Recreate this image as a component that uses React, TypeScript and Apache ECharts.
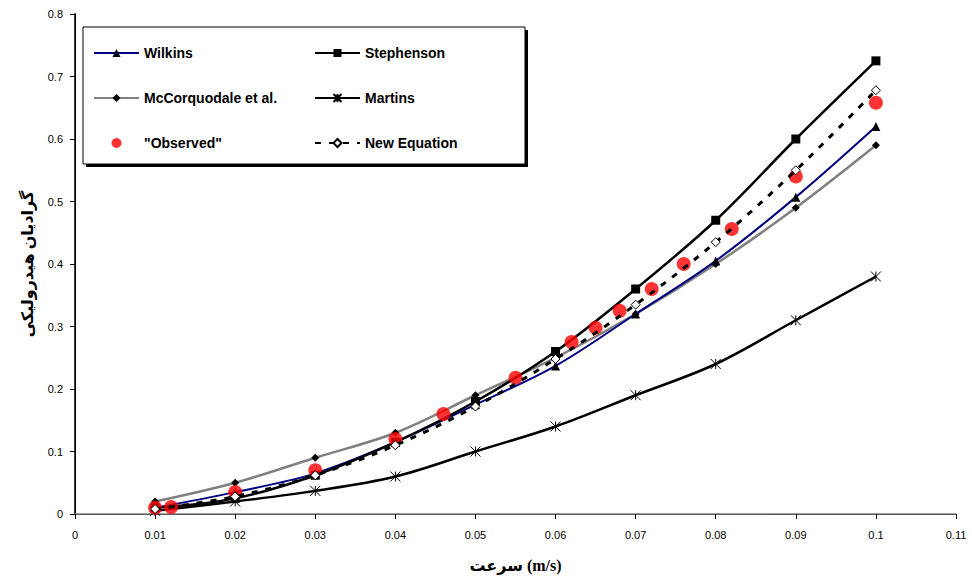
import React, { useEffect, useRef } from "react";
import * as echarts from "echarts";

const xValues = [0.01, 0.02, 0.03, 0.04, 0.05, 0.06, 0.07, 0.08, 0.09, 0.1];
const wilkins = [0.01, 0.035, 0.065, 0.115, 0.175, 0.237, 0.32, 0.405, 0.507, 0.62];
const stephenson = [0.01, 0.025, 0.062, 0.115, 0.18, 0.26, 0.36, 0.47, 0.6, 0.725];
const mccorquodale = [0.02, 0.05, 0.09, 0.13, 0.19, 0.25, 0.32, 0.4, 0.49, 0.59];
const martins = [0.005, 0.02, 0.037, 0.06, 0.1, 0.14, 0.19, 0.24, 0.31, 0.38];
const newEquation = [0.008, 0.028, 0.062, 0.11, 0.172, 0.248, 0.335, 0.435, 0.55, 0.678];
const observedX = [0.01, 0.012, 0.02, 0.03, 0.04, 0.046, 0.055, 0.062, 0.065, 0.068, 0.072, 0.076, 0.082, 0.09, 0.1];
const observedY = [0.01, 0.011, 0.035, 0.07, 0.12, 0.16, 0.218, 0.275, 0.298, 0.325, 0.36, 0.4, 0.456, 0.54, 0.658];

const pair = (ys: number[]) => xValues.map((x, i) => [x, ys[i]]);

const starPath = "path://M0,0L10,10M10,0L0,10M5,0L5,10";

export default function App() {
  const ref = useRef<HTMLDivElement>(null);
  useEffect(() => {
    if (!ref.current) return;
    const chart = echarts.init(ref.current, undefined, { renderer: "svg" });
    const font = "Arial, 'Liberation Sans', sans-serif";
    const serif = "'Liberation Serif', 'DejaVu Serif', 'DejaVu Sans', serif";
    const legendText = { fontFamily: font, fontWeight: "bold", fontSize: 14, color: "#000" };
    chart.setOption({
      animation: false,
      backgroundColor: "#fff",
      grid: { left: 75, right: 16, top: 14, bottom: 67 },
      xAxis: [
        {
          type: "value",
          min: 0,
          max: 0.11,
          interval: 0.01,
          axisLine: { lineStyle: { color: "#000", width: 1 } },
          axisTick: { show: true, length: 5, lineStyle: { color: "#000" } },
          axisLabel: {
            color: "#000",
            fontSize: 11,
            fontFamily: font,
            margin: 15,
            formatter: (v: number) => String(Math.round(v * 100) / 100),
          },
          splitLine: { show: false },
          name: "سرعت (m/s)",
          nameLocation: "middle",
          nameGap: 43,
          nameTextStyle: { fontFamily: serif, fontWeight: "bold", fontSize: 16, color: "#000" },
        },
        {
          type: "value",
          position: "top",
          min: 0,
          max: 0.11,
          axisLine: { show: true, lineStyle: { color: "#808080", width: 1.5 } },
          axisTick: { show: false },
          axisLabel: { show: false },
          splitLine: { show: false },
        },
      ],
      yAxis: [
        {
          type: "value",
          min: 0,
          max: 0.8,
          interval: 0.1,
          axisLine: { show: true, lineStyle: { color: "#000", width: 1 } },
          axisTick: { show: true, length: 5, lineStyle: { color: "#000" } },
          axisLabel: {
            color: "#000",
            fontSize: 11,
            fontFamily: font,
            margin: 12,
            formatter: (v: number) => String(Math.round(v * 10) / 10),
          },
          splitLine: { show: false },
          name: "گرادیان هیدرولیکی",
          nameLocation: "middle",
          nameGap: 40,
          nameRotate: 90,
          nameTextStyle: { fontFamily: serif, fontWeight: "bold", fontSize: 16, color: "#000" },
        },
        {
          type: "value",
          position: "right",
          min: 0,
          max: 0.8,
          axisLine: { show: true, lineStyle: { color: "#000", width: 1.5 } },
          axisTick: { show: false },
          axisLabel: { show: false },
          splitLine: { show: false },
        },
      ],
      legend: [
        {
          orient: "vertical",
          left: 88,
          top: 41,
          itemWidth: 45,
          itemHeight: 10,
          itemGap: 31,
          textStyle: legendText,
          data: ["Wilkins", "McCorquodale et al.", '"Observed"'],
        },
        {
          orient: "vertical",
          left: 309,
          top: 41,
          itemWidth: 45,
          itemHeight: 10,
          itemGap: 31,
          textStyle: legendText,
          data: ["Stephenson", "Martins", "New Equation"],
        },
      ],
      graphic: [
        { type: "rect", z: 0, shape: { x: 86, y: 30, width: 442, height: 137 }, style: { fill: "#000" } },
        { type: "rect", z: 1, shape: { x: 83, y: 27, width: 442, height: 137 }, style: { fill: "#fff", stroke: "#000", lineWidth: 1 } },
      ],
      series: [
        {
          name: "McCorquodale et al.",
          type: "line",
          smooth: 0.35,
          data: pair(mccorquodale),
          lineStyle: { color: "#808080", width: 2.5 },
          itemStyle: { color: "#000" },
          symbol: "diamond",
          symbolSize: 8,
          z: 3,
        },
        {
          name: "Wilkins",
          type: "line",
          smooth: 0.35,
          data: pair(wilkins),
          lineStyle: { color: "#000080", width: 2 },
          itemStyle: { color: "#000" },
          symbol: "triangle",
          symbolSize: 9,
          z: 4,
        },
        {
          name: "Stephenson",
          type: "line",
          smooth: 0.35,
          data: pair(stephenson),
          lineStyle: { color: "#000", width: 2.5 },
          itemStyle: { color: "#000" },
          symbol: "rect",
          symbolSize: 9,
          z: 4,
        },
        {
          name: "Martins",
          type: "line",
          smooth: 0.35,
          data: pair(martins),
          lineStyle: { color: "#000", width: 2.5 },
          itemStyle: { color: "rgba(0,0,0,0)", borderColor: "#000", borderWidth: 1 },
          symbol: starPath,
          symbolSize: 10,
          z: 4,
        },
        {
          name: '"Observed"',
          type: "scatter",
          data: observedX.map((x, i) => [x, observedY[i]]),
          itemStyle: { color: "#ff0000" },
          symbol: "circle",
          symbolSize: 14,
          z: 6,
        },
        {
          name: "New Equation",
          type: "line",
          smooth: 0.35,
          data: pair(newEquation),
          lineStyle: { color: "#000", width: 3, type: [6, 8] },
          itemStyle: { color: "#fff", borderColor: "#000", borderWidth: 1 },
          symbol: "diamond",
          symbolSize: 9,
          showAllSymbol: true,
          z: 7,
        },
      ],
    });
    return () => chart.dispose();
  }, []);
  return <div ref={ref} style={{ position: "absolute", left: 0, top: 0, width: 972, height: 581 }} />;
}
